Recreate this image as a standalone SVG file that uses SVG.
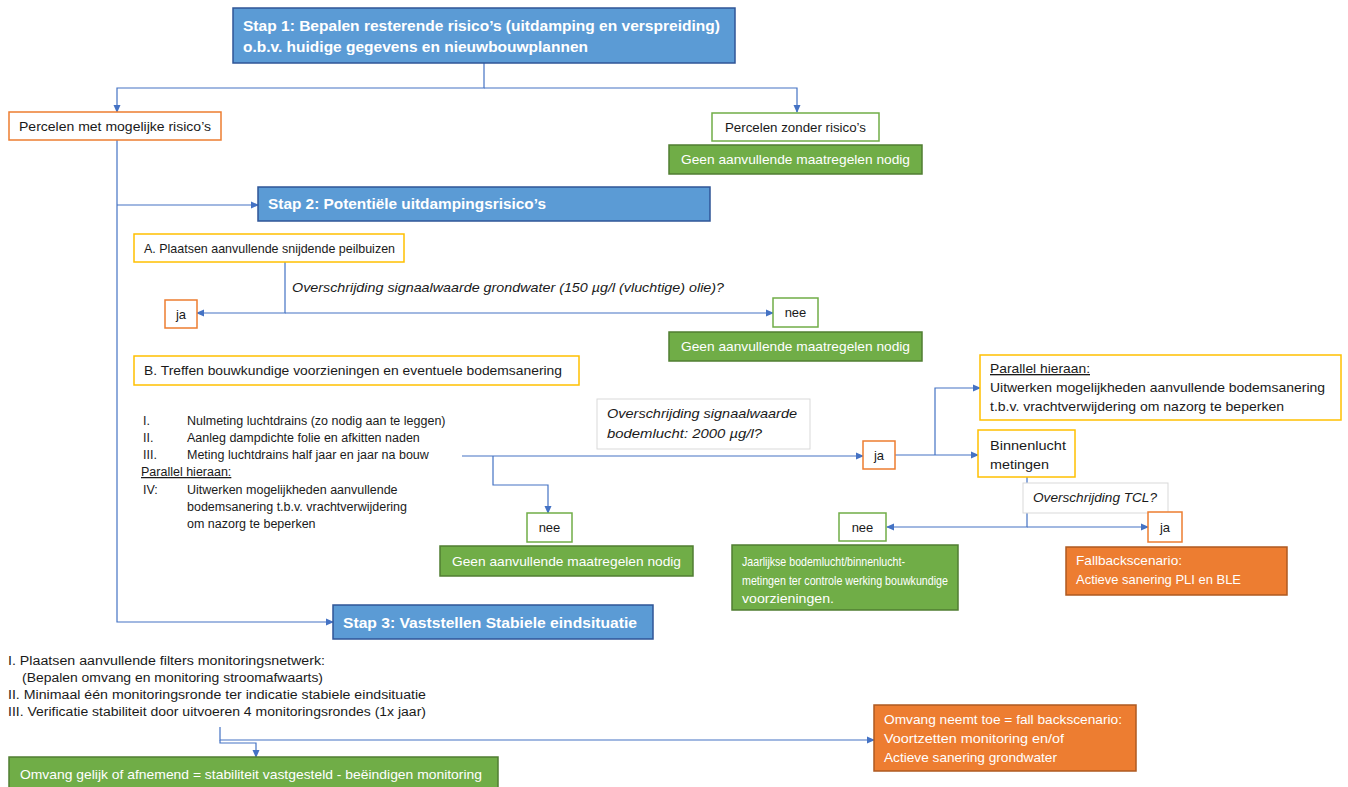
<svg xmlns="http://www.w3.org/2000/svg" width="1348" height="787" viewBox="0 0 1348 787">
<defs>
<marker id="ar" markerWidth="8" markerHeight="8" refX="7" refY="4" orient="auto" markerUnits="userSpaceOnUse">
<path d="M0,0.5 L8,4 L0,7.5 Z" fill="#4472C4"/>
</marker>
<style>
text{font-family:"Liberation Sans",Arial,sans-serif;font-size:13px;fill:#1a1a1a}
.step rect{fill:#5B9BD5;stroke:#2F5597;stroke-width:1.5}
.step text{fill:#fff;font-weight:bold;font-size:15px}
.g rect{fill:#70AD47;stroke:#507E32;stroke-width:1.5}
.g text{fill:#fff;font-size:13.5px}
.o rect{fill:#ED7D31;stroke:#AE5A21;stroke-width:1.5}
.o text{fill:#fff;font-size:13.5px}
.ob rect{fill:#fff;stroke:#ED7D31;stroke-width:1.5}
.gb rect{fill:#fff;stroke:#70AD47;stroke-width:1.5}
.yb rect{fill:#fff;stroke:#FFC000;stroke-width:1.5}
.lb rect{fill:#fff;stroke:#d9d9d9;stroke-width:1}
.lb text,.it{font-style:italic}
.list text{font-size:12.5px}
#conn path{fill:none;stroke:#4472C4;stroke-width:1.2}
.c{text-anchor:middle}
</style>
</defs>
<rect width="1348" height="787" fill="#fff"/>

<g id="conn">
<path d="M484,63 V88 H117 V112" marker-end="url(#ar)"/>
<path d="M484,88 H797 V112" marker-end="url(#ar)"/>
<path d="M117,140 V622 H333" marker-end="url(#ar)"/>
<path d="M117,205 H258" marker-end="url(#ar)"/>
<path d="M285,262 V313 H197" marker-end="url(#ar)"/>
<path d="M285,313 H773" marker-end="url(#ar)"/>
<path d="M462,456 H863" marker-end="url(#ar)"/>
<path d="M493,456 V485 H548 V513" marker-end="url(#ar)"/>
<path d="M895,455 H978" marker-end="url(#ar)"/>
<path d="M935,455 V388 H980" marker-end="url(#ar)"/>
<path d="M1027,477 V527 H887" marker-end="url(#ar)"/>
<path d="M1027,527 H1148" marker-end="url(#ar)"/>
<path d="M220,727 V740 H874" marker-end="url(#ar)"/>
<path d="M220,740 V743 H256 V757" marker-end="url(#ar)"/>
</g>

<g id="stap1" class="step">
<rect x="233" y="8" width="502" height="55"/>
<text x="243" y="31" textLength="477" lengthAdjust="spacingAndGlyphs">Stap 1: Bepalen resterende risico’s (uitdamping  en verspreiding)</text>
<text x="243" y="52" textLength="345" lengthAdjust="spacingAndGlyphs">o.b.v. huidige gegevens en nieuwbouwplannen</text>
</g>

<g id="percelen-met" class="ob">
<rect x="9" y="112" width="212" height="28"/>
<text x="19" y="131" textLength="192" lengthAdjust="spacingAndGlyphs">Percelen met mogelijke risico’s</text>
</g>

<g id="percelen-zonder" class="gb">
<rect x="712" y="113" width="167" height="28"/>
<text class="c" x="795.5" y="132" textLength="141" lengthAdjust="spacingAndGlyphs">Percelen zonder risico’s</text>
</g>

<g id="geen1" class="g">
<rect x="669" y="145" width="253" height="29"/>
<text class="c" x="795.5" y="164" textLength="229" lengthAdjust="spacingAndGlyphs">Geen aanvullende maatregelen nodig</text>
</g>

<g id="stap2" class="step">
<rect x="258" y="187" width="452" height="34"/>
<text x="268" y="209" textLength="278" lengthAdjust="spacingAndGlyphs">Stap 2: Potentiële uitdampingsrisico’s</text>
</g>

<g id="a" class="yb">
<rect x="134" y="234" width="270" height="28"/>
<text x="144" y="253" textLength="251" lengthAdjust="spacingAndGlyphs">A. Plaatsen aanvullende snijdende peilbuizen</text>
</g>

<g id="label-grondwater">
<text class="it" x="292" y="292" textLength="432" lengthAdjust="spacingAndGlyphs">Overschrijding signaalwaarde grondwater (150 µg/l (vluchtige) olie)?</text>
</g>

<g id="ja1" class="ob">
<rect x="165" y="300" width="32" height="28"/>
<text class="c" x="181" y="319">ja</text>
</g>

<g id="nee1" class="gb">
<rect x="773" y="298" width="45" height="29"/>
<text class="c" x="795.5" y="317">nee</text>
</g>

<g id="geen2" class="g">
<rect x="669" y="332" width="253" height="29"/>
<text class="c" x="795.5" y="351" textLength="229" lengthAdjust="spacingAndGlyphs">Geen aanvullende maatregelen nodig</text>
</g>

<g id="b" class="yb">
<rect x="134" y="356" width="445" height="29"/>
<text x="144" y="375" textLength="418" lengthAdjust="spacingAndGlyphs">B. Treffen  bouwkundige voorzieningen en eventuele bodemsanering</text>
</g>

<g id="b-list" class="list">
<text x="143" y="425">I.</text>
<text x="187" y="425">Nulmeting luchtdrains (zo nodig aan te leggen)</text>
<text x="143" y="442">II.</text>
<text x="187" y="442">Aanleg dampdichte folie en afkitten naden</text>
<text x="143" y="459">III.</text>
<text x="187" y="459">Meting luchtdrains half jaar en jaar na bouw</text>
<text x="141" y="476" text-decoration="underline">Parallel hieraan:</text>
<text x="143" y="494">IV:</text>
<text x="187" y="494">Uitwerken mogelijkheden aanvullende</text>
<text x="187" y="511">bodemsanering t.b.v. vrachtverwijdering</text>
<text x="187" y="528">om nazorg te beperken</text>
</g>

<g id="label-bodemlucht" class="lb">
<rect x="597" y="399" width="213" height="50"/>
<text x="607" y="418" textLength="190" lengthAdjust="spacingAndGlyphs">Overschrijding signaalwaarde</text>
<text x="607" y="438" textLength="155" lengthAdjust="spacingAndGlyphs">bodemlucht: 2000 µg/l?</text>
</g>

<g id="nee2" class="gb">
<rect x="527" y="513" width="45" height="29"/>
<text class="c" x="549.5" y="532">nee</text>
</g>

<g id="geen3" class="g">
<rect x="440" y="546" width="253" height="30"/>
<text class="c" x="566.5" y="566" textLength="229" lengthAdjust="spacingAndGlyphs">Geen aanvullende maatregelen nodig</text>
</g>

<g id="ja2" class="ob">
<rect x="863" y="441" width="32" height="28"/>
<text class="c" x="879" y="460">ja</text>
</g>

<g id="parallel" class="yb">
<rect x="980" y="355" width="361" height="65"/>
<text x="990" y="373" text-decoration="underline" textLength="100" lengthAdjust="spacingAndGlyphs">Parallel hieraan:</text>
<text x="990" y="392" textLength="335" lengthAdjust="spacingAndGlyphs">Uitwerken mogelijkheden aanvullende bodemsanering</text>
<text x="990" y="411" textLength="294" lengthAdjust="spacingAndGlyphs">t.b.v. vrachtverwijdering om nazorg te beperken</text>
</g>

<g id="binnenlucht" class="yb">
<rect x="978" y="430" width="97" height="47"/>
<text x="990" y="450" textLength="76" lengthAdjust="spacingAndGlyphs">Binnenlucht</text>
<text x="990" y="469" textLength="59" lengthAdjust="spacingAndGlyphs">metingen</text>
</g>

<g id="label-tcl" class="lb">
<rect x="1023" y="483" width="145" height="30"/>
<text x="1033" y="502" textLength="124" lengthAdjust="spacingAndGlyphs">Overschrijding TCL?</text>
</g>

<g id="nee3" class="gb">
<rect x="839" y="513" width="47" height="28"/>
<text class="c" x="862.5" y="532">nee</text>
</g>

<g id="ja3" class="ob">
<rect x="1148" y="512" width="34" height="30"/>
<text class="c" x="1165" y="532">ja</text>
</g>

<g id="jaarlijkse" class="g">
<rect x="732" y="545" width="226" height="65"/>
<text x="742" y="566" textLength="163" lengthAdjust="spacingAndGlyphs">Jaarlijkse bodemlucht/binnenlucht-</text>
<text x="742" y="585" textLength="206" lengthAdjust="spacingAndGlyphs">metingen ter controle werking bouwkundige</text>
<text x="742" y="603" textLength="92" lengthAdjust="spacingAndGlyphs">voorzieningen.</text>
</g>

<g id="fallback1" class="o">
<rect x="1066" y="547" width="221" height="48"/>
<text x="1076" y="565" textLength="106" lengthAdjust="spacingAndGlyphs">Fallbackscenario:</text>
<text x="1076" y="584" textLength="165" lengthAdjust="spacingAndGlyphs">Actieve sanering PLI en BLE</text>
</g>

<g id="stap3" class="step">
<rect x="333" y="605" width="320" height="34"/>
<text x="343" y="628" textLength="294" lengthAdjust="spacingAndGlyphs">Stap 3: Vaststellen Stabiele eindsituatie</text>
</g>

<g id="stap3-list" class="list">
<text x="8" y="665" textLength="317" lengthAdjust="spacingAndGlyphs">I.  Plaatsen aanvullende filters monitoringsnetwerk:</text>
<text x="22" y="682" textLength="301" lengthAdjust="spacingAndGlyphs">(Bepalen omvang en monitoring stroomafwaarts)</text>
<text x="8" y="699" textLength="418" lengthAdjust="spacingAndGlyphs">II.  Minimaal één monitoringsronde ter indicatie stabiele eindsituatie</text>
<text x="8" y="716" textLength="418" lengthAdjust="spacingAndGlyphs">III. Verificatie stabiliteit door uitvoeren 4 monitoringsrondes (1x jaar)</text>
</g>

<g id="omvang-gelijk" class="g">
<rect x="9" y="757" width="489" height="32"/>
<text x="20" y="779" textLength="462" lengthAdjust="spacingAndGlyphs">Omvang gelijk of afnemend = stabiliteit vastgesteld - beëindigen monitoring</text>
</g>

<g id="omvang-toe" class="o">
<rect x="874" y="705" width="262" height="66"/>
<text x="884" y="724" textLength="238" lengthAdjust="spacingAndGlyphs">Omvang neemt toe = fall backscenario:</text>
<text x="884" y="743" textLength="180" lengthAdjust="spacingAndGlyphs">Voortzetten monitoring en/of</text>
<text x="884" y="762" textLength="173" lengthAdjust="spacingAndGlyphs">Actieve sanering grondwater</text>
</g>
</svg>
